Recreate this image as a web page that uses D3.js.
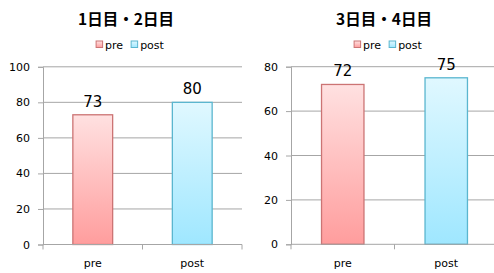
<!DOCTYPE html>
<html><head><meta charset="utf-8">
<script src="https://cdn.jsdelivr.net/npm/d3@7"></script>
<style>body{margin:0;background:#fff}svg{display:block}</style>
</head><body>
<svg id="c" width="494" height="273"></svg>
<script>
const categories = ["pre", "post"];
const titles = ["1日目・2日目", "3日目・4日目"];
const valuesA = [73, 80];
const valuesB = [72, 75];
const ticksA = [0, 20, 40, 60, 80, 100];
const ticksB = [0, 20, 40, 60, 80];

const svg = d3.select("#c");
const defs = svg.append("defs");
const grads = [
  {id: "gPre", top: "#ffe1e1", bot: "#ff9d9d", stroke: "#cc7474"},
  {id: "gPost", top: "#e0f8ff", bot: "#9fe7ff", stroke: "#5ab6cf"}
];
grads.forEach(g => {
  const lg = defs.append("linearGradient").attr("id", g.id).attr("x1", 0).attr("y1", 0).attr("x2", 0).attr("y2", 1);
  lg.append("stop").attr("offset", "0%").attr("stop-color", g.top);
  lg.append("stop").attr("offset", "100%").attr("stop-color", g.bot);
});

const font = "'DejaVu Sans', sans-serif";
const panels = [
  {title: titles[0], values: valuesA, ticks: ticksA, max: 100, x0: 43, x1: 242, yT: 66.8, yB: 244.5, cx: 126, pad: 0.6},
  {title: titles[1], values: valuesB, ticks: ticksB, max: 80, x0: 291, x1: 498, yT: 66.7, yB: 244.3, cx: 384, pad: 0.59}
];

panels.forEach(p => {
  const g = svg.append("g");
  const x = d3.scaleBand().domain(categories).range([p.x0, p.x1]).paddingInner(p.pad).paddingOuter(p.pad / 2);
  const y = d3.scaleLinear().domain([0, p.max]).range([p.yB, p.yT]);

  // title
  g.append("text").attr("x", p.cx).attr("y", 25).attr("text-anchor", "middle")
    .attr("font-family", "'Noto Sans CJK JP', sans-serif").attr("font-weight", "bold")
    .attr("font-size", 15.5).attr("fill", "#000").text(p.title);

  // legend
  const lg = g.append("g");
  const items = [{name: categories[0], g: grads[0]}, {name: categories[1], g: grads[1]}];
  let lx = 0;
  const widths = [];
  items.forEach((it, i) => {
    const ig = lg.append("g").attr("transform", `translate(${lx},0)`);
    ig.append("rect").attr("x", 0).attr("y", 41).attr("width", 6.5).attr("height", 6.5)
      .attr("fill", `url(#${it.g.id})`).attr("stroke", it.g.stroke).attr("stroke-width", 1);
    const t = ig.append("text").attr("x", 9).attr("y", 48.5).attr("font-family", font)
      .attr("font-size", 11).attr("fill", "#000").text(it.name);
    const w = 9 + t.node().getComputedTextLength();
    lx += w + 8;
  });
  const totalW = lx - 8;
  lg.attr("transform", `translate(${p.cx + 4 - totalW / 2},0)`);

  // gridlines
  g.selectAll("line.grid").data(p.ticks.filter(t => t > 0)).enter().append("line")
    .attr("x1", p.x0).attr("x2", p.x1).attr("y1", d => y(d)).attr("y2", d => y(d))
    .attr("stroke", "#a6a6a6").attr("stroke-width", 1);

  // y axis
  const ya = d3.axisLeft(y).tickValues(p.ticks).tickSize(5).tickPadding(8);
  const yg = g.append("g").attr("transform", `translate(${p.x0},0)`).call(ya);
  yg.select(".domain").attr("stroke", "#a6a6a6");
  yg.selectAll(".tick line").attr("stroke", "#a6a6a6");
  yg.selectAll(".tick text").attr("font-family", font).attr("font-size", 11).attr("fill", "#000");

  // bars
  g.selectAll("rect.bar").data(p.values).enter().append("rect")
    .attr("x", (d, i) => x(categories[i])).attr("width", x.bandwidth())
    .attr("y", d => y(d)).attr("height", d => y(0) - y(d))
    .attr("fill", (d, i) => `url(#${grads[i].id})`)
    .attr("stroke", (d, i) => grads[i].stroke).attr("stroke-width", 1.3);

  // x axis
  g.append("line").attr("x1", p.x0).attr("x2", p.x1).attr("y1", y(0)).attr("y2", y(0))
    .attr("stroke", "#a6a6a6");
  const step = x.step();
  const bounds = [p.x0, p.x0 + step, p.x0 + 2 * step];
  g.selectAll("line.xt").data(bounds).enter().append("line")
    .attr("x1", d => d).attr("x2", d => d).attr("y1", y(0)).attr("y2", y(0) + 5)
    .attr("stroke", "#a6a6a6");
  g.selectAll("text.cat").data(categories).enter().append("text")
    .attr("x", d => x(d) + x.bandwidth() / 2).attr("y", 267).attr("text-anchor", "middle")
    .attr("font-family", font).attr("font-size", 11).attr("fill", "#000").text(d => d);

  // value labels
  g.selectAll("text.val").data(p.values).enter().append("text")
    .attr("x", (d, i) => x(categories[i]) + x.bandwidth() / 2).attr("y", d => y(d) - 8)
    .attr("text-anchor", "middle").attr("font-family", font).attr("font-size", 15)
    .attr("fill", "#000").text(d => d);
});
</script>
</body></html>
